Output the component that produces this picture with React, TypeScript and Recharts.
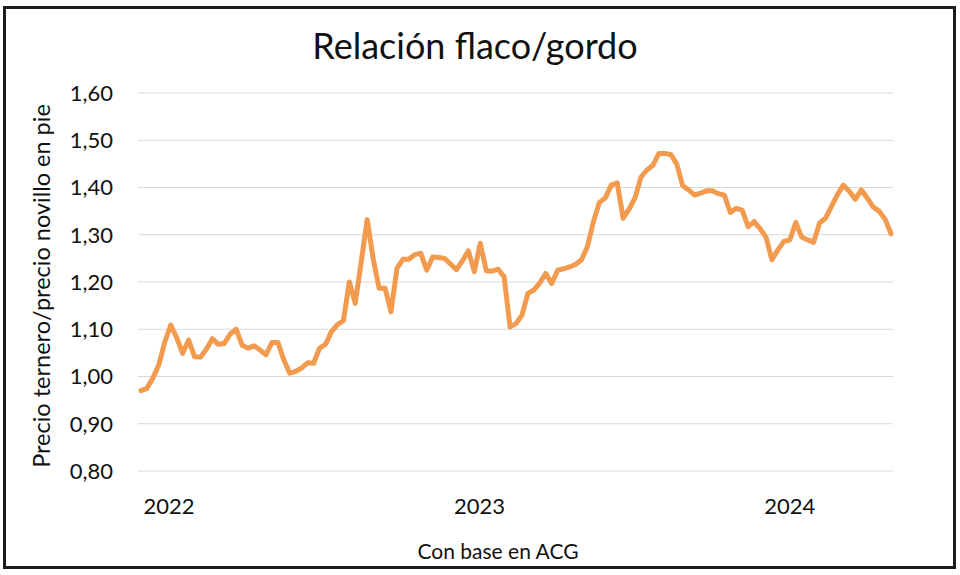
import React from 'react';
import { LineChart, Line, XAxis, YAxis, CartesianGrid } from 'recharts';

// Weekly ratio (precio ternero / precio novillo en pie), starting week of 2021-11-29
const ratio: number[] = [
  0.970, 0.975, 0.997, 1.025, 1.073, 1.109, 1.082, 1.049, 1.077, 1.042,
  1.041, 1.058, 1.080, 1.068, 1.070, 1.090, 1.100, 1.066, 1.060, 1.065,
  1.056, 1.046, 1.072, 1.072, 1.035, 1.007, 1.011, 1.018, 1.029, 1.028,
  1.060, 1.068, 1.095, 1.110, 1.118, 1.200, 1.155, 1.243, 1.332, 1.250,
  1.187, 1.187, 1.137, 1.229, 1.248, 1.248, 1.258, 1.261, 1.225, 1.253,
  1.252, 1.250, 1.238, 1.226, 1.245, 1.266, 1.222, 1.282, 1.224, 1.223,
  1.227, 1.211, 1.105, 1.112, 1.130, 1.176, 1.183, 1.198, 1.218, 1.197,
  1.225, 1.228, 1.232, 1.237, 1.247, 1.275, 1.327, 1.368, 1.378, 1.405,
  1.410, 1.335, 1.354, 1.378, 1.422, 1.437, 1.447, 1.472, 1.472, 1.470,
  1.450, 1.404, 1.395, 1.384, 1.388, 1.393, 1.393, 1.387, 1.384, 1.347,
  1.356, 1.352, 1.317, 1.328, 1.313, 1.295, 1.247, 1.268, 1.286, 1.289,
  1.326, 1.295, 1.289, 1.284, 1.325, 1.335, 1.360, 1.385, 1.405, 1.392,
  1.375, 1.395, 1.378, 1.359, 1.350, 1.333, 1.302,
];

const startWeek = Date.UTC(2021, 10, 29);
const WEEK_MS = 7 * 24 * 3600 * 1000;

const yearLabels: number[] = [2022, 2023, 2024];
const yTicks: number[] = [0.8, 0.9, 1.0, 1.1, 1.2, 1.3, 1.4, 1.5, 1.6];

const title = 'Relación flaco/gordo';
const yTitle = 'Precio ternero/precio novillo en pie';
const caption = 'Con base en ACG';

const data = ratio.map((v, i) => ({ t: startWeek + i * WEEK_MS, v }));
const xTicks = yearLabels.map((y) => Date.UTC(y, 0, 1));

const FONT = 'Lato, "Open Sans", sans-serif';

export default function App() {
  return (
    <div style={{ position: 'absolute', left: 0, top: 0, width: 960, height: 575, background: '#fff', fontFamily: FONT }}>
      <div
        style={{
          position: 'absolute', left: 3, top: 6, width: 953, height: 563,
          border: '3px solid #1c1c1c', boxSizing: 'border-box',
        }}
      />
      <div style={{ position: 'absolute', left: 0, top: 23, width: 950, textAlign: 'center', fontSize: 36, lineHeight: '44px', color: '#111' }}>
        {title}
      </div>
      <div
        style={{
          position: 'absolute', left: 41 - 250, top: 286 - 15, width: 500, height: 30,
          lineHeight: '30px', textAlign: 'center', fontSize: 23.5, color: '#111',
          transform: 'rotate(-90deg)',
        }}
      >
        {yTitle}
      </div>
      <div style={{ position: 'absolute', left: 498 - 150, top: 538, width: 300, textAlign: 'center', fontSize: 21, lineHeight: '26px', color: '#111' }}>
        {caption}
      </div>
      <div style={{ position: 'absolute', left: 0, top: 0 }}>
        <LineChart width={960} height={575} data={data} margin={{ top: 93, right: 67, bottom: 74, left: 0 }}>
          <CartesianGrid vertical={false} stroke="#d9d9d9" strokeWidth={1.2} />
          <XAxis
            dataKey="t"
            type="number"
            scale="linear"
            domain={[data[0].t, data[data.length - 1].t]}
            ticks={xTicks}
            tickFormatter={(t: number) => String(new Date(t).getUTCFullYear())}
            axisLine={false}
            tickLine={false}
            tickSize={0}
            tickMargin={27}
            height={30}
            padding={{ left: 3, right: 2 }}
            tick={{ fontSize: 22, fill: '#111', fontFamily: FONT }}
            interval={0}
          />
          <YAxis
            domain={[0.8, 1.6]}
            ticks={yTicks}
            tickFormatter={(v: number) => v.toFixed(2).replace('.', ',')}
            axisLine={false}
            tickLine={false}
            tickSize={0}
            tickMargin={25}
            width={138}
            tick={{ fontSize: 22, fill: '#111', fontFamily: FONT }}
            interval={0}
          />
          <Line
            type="linear"
            dataKey="v"
            stroke="#F29B4E"
            strokeWidth={5}
            dot={false}
            strokeLinejoin="round"
            strokeLinecap="round"
            isAnimationActive={false}
          />
        </LineChart>
      </div>
    </div>
  );
}
